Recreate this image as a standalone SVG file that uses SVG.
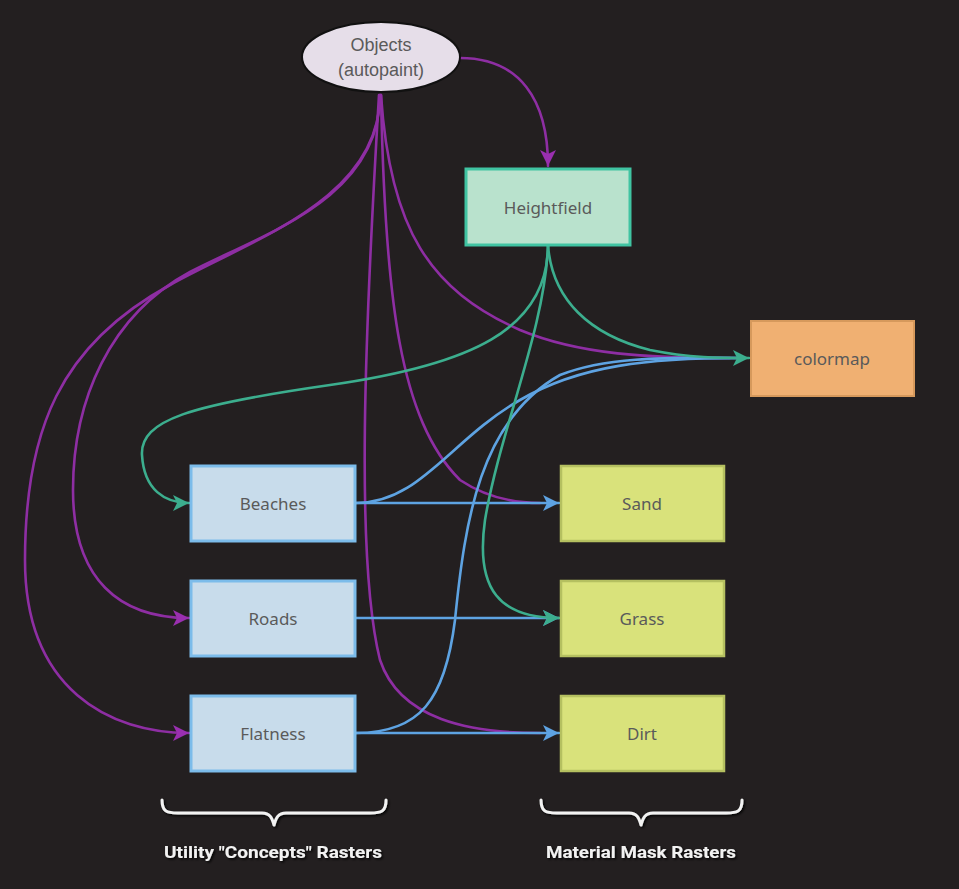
<svg xmlns="http://www.w3.org/2000/svg" width="959" height="889" viewBox="0 0 959 889">
<defs>
<style>
.bg{fill:#231f20}
.node text{font-family:"Noto Sans","Open Sans",sans-serif;font-size:17px;fill:#5a5a5a;text-anchor:middle;dominant-baseline:central}
.util{fill:#c8dceb;stroke:#7cbcea;stroke-width:3}
.mat{fill:#d9e27b;stroke:#b5c060;stroke-width:2.5}
.hf{fill:#b9e2cd;stroke:#40c4a2;stroke-width:3}
.cm{fill:#f0b072;stroke:#d6995c;stroke-width:2}
.obj{fill:#e6dee9;stroke:#111;stroke-width:2}
.e{fill:none;stroke-width:2.6;stroke-linecap:round}
.p{stroke:#8e2ea3}
.g{stroke:#3cae8e}
.b{stroke:#5ea3e2}
.lab{font-family:"Roboto","Open Sans",sans-serif;font-weight:bold;font-size:17px;fill:#f2f2f2;text-anchor:middle}
.brace{fill:none;stroke:#f2f2f2;stroke-width:3;stroke-linecap:round;stroke-linejoin:round}
</style>
<marker id="ap" markerUnits="userSpaceOnUse" markerWidth="18" markerHeight="18" refX="16" refY="8" orient="auto"><path d="M0,0 L16,8 L0,16 L4,8 z" fill="#9a2fb0"/></marker>
<marker id="ag" markerUnits="userSpaceOnUse" markerWidth="18" markerHeight="18" refX="16" refY="8" orient="auto"><path d="M0,0 L16,8 L0,16 L4,8 z" fill="#3cae8e"/></marker>
<marker id="ab" markerUnits="userSpaceOnUse" markerWidth="18" markerHeight="18" refX="16" refY="8" orient="auto"><path d="M0,0 L16,8 L0,16 L4,8 z" fill="#5ea3e2"/></marker>
<filter id="sh" x="-10%" y="-30%" width="120%" height="160%"><feDropShadow dx="1.5" dy="1.5" stdDeviation="1" flood-color="#000" flood-opacity="0.9"/></filter>
</defs>
<rect class="bg" x="0" y="0" width="959" height="889"/>

<g id="connectors">
<!-- purple from Objects -->
<path class="e p" d="M460,58 C520,58 548,100 548,166" marker-end="url(#ap)"/>
<path class="e p" d="M380,95 C380,200 260,235 190,272 C110,315 73,400 73,490 C73,580 120,618 189,618" marker-end="url(#ap)"/>
<path class="e p" d="M380,95 C380,200 250,240 170,285 C60,345 25,430 25,560 C25,690 110,733 189,733" marker-end="url(#ap)"/>
<path class="e p" d="M379,95 C365,330 355,560 380,660 C400,720 470,733 540,733"/>
<path class="e p" d="M381,95 C385,300 400,420 460,480 C490,500 520,503 540,503"/>
<path class="e p" d="M381,95 C390,230 430,290 520,330 C580,355 650,358 730,358"/>
<!-- green from Heightfield -->
<path class="e g" d="M548,245 C548,330 470,365 330,385 C190,405 140,420 142,455 C144,490 165,503 189,503" marker-end="url(#ag)"/>
<!-- blue -->
<path class="e b" d="M356,503 L559,503" marker-end="url(#ab)"/>
<path class="e b" d="M356,618 L559,618" marker-end="url(#ab)"/>
<path class="e b" d="M356,733 L559,733" marker-end="url(#ab)"/>
<path class="e b" d="M356,503 C420,503 450,440 520,400 C580,365 650,358 740,358"/>
<path class="e b" d="M356,733 C420,733 445,700 455,620 C465,520 480,420 560,375 C610,355 680,358 740,358"/>
<path class="e g" d="M548,245 C545,330 500,430 485,520 C475,590 500,618 559,618" marker-end="url(#ag)"/>
<path class="e g" d="M548,245 C552,300 590,335 650,350 C690,358 720,358 749,358" marker-end="url(#ag)"/>
</g>

<g id="objects" class="node"><ellipse class="obj" cx="381" cy="57" rx="79" ry="35"/><text x="381" y="45" style="font-family:'Liberation Sans',Arial,sans-serif;font-size:18px">Objects</text><text x="381" y="70" style="font-family:'Liberation Sans',Arial,sans-serif;font-size:18px">(autopaint)</text></g>
<g id="heightfield" class="node"><rect class="hf" x="466" y="169" width="164" height="76"/><text x="548" y="207">Heightfield</text></g>
<g id="colormap" class="node"><rect class="cm" x="751" y="321" width="163" height="75"/><text x="832" y="358">colormap</text></g>
<g id="beaches" class="node"><rect class="util" x="191" y="466" width="164" height="75"/><text x="273" y="503">Beaches</text></g>
<g id="roads" class="node"><rect class="util" x="191" y="581" width="164" height="75"/><text x="273" y="618">Roads</text></g>
<g id="flatness" class="node"><rect class="util" x="191" y="696" width="164" height="75"/><text x="273" y="733">Flatness</text></g>
<g id="sand" class="node"><rect class="mat" x="561" y="466" width="163" height="75"/><text x="642" y="503">Sand</text></g>
<g id="grass" class="node"><rect class="mat" x="561" y="581" width="163" height="75"/><text x="642" y="618">Grass</text></g>
<g id="dirt" class="node"><rect class="mat" x="561" y="696" width="163" height="75"/><text x="642" y="733">Dirt</text></g>

<g id="legend" filter="url(#sh)">
<path class="brace" d="M162,800 C162,811 166,813 178,813 L262,813 C270,813 272,818 274,825 C276,818 278,813 286,813 L370,813 C382,813 386,811 386,800"/>
<path class="brace" d="M541,800 C541,811 545,813 557,813 L629,813 C637,813 639,818 641,825 C643,818 645,813 653,813 L726,813 C738,813 742,811 742,800"/>
<text class="lab" x="273" y="858" textLength="218" lengthAdjust="spacingAndGlyphs">Utility "Concepts" Rasters</text>
<text class="lab" x="641" y="858" textLength="190" lengthAdjust="spacingAndGlyphs">Material Mask Rasters</text>
</g>
</svg>
